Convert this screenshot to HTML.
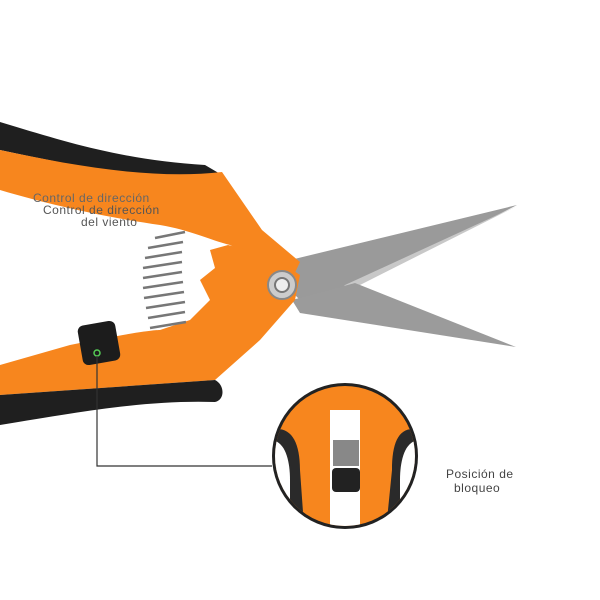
<!DOCTYPE html>
<html><head><meta charset="utf-8"><style>
html,body{margin:0;padding:0;background:#fff;width:600px;height:600px;overflow:hidden}
svg{display:block}
</style></head><body>
<svg width="600" height="600" viewBox="0 0 600 600" xmlns="http://www.w3.org/2000/svg">
<defs>
<linearGradient id="bl" x1="0" y1="0" x2="0" y2="1">
<stop offset="0" stop-color="#b9b9b9"/><stop offset="0.5" stop-color="#8c8c8c"/><stop offset="1" stop-color="#a8a8a8"/>
</linearGradient>
<clipPath id="cc"><circle cx="345" cy="456" r="70"/></clipPath>
</defs>
<!-- blades -->
<polygon points="240,240 282,262 517,205 330,300 300,300" fill="#9a9a9a"/>
<polygon points="330,300 517,206 345,285" fill="#c8c8c8"/>
<polygon points="292,300 355,283 516,347 300,313" fill="#9b9b9b"/>
<!-- top handle black -->
<path d="M0,122 C60,140 120,160 205,165 L222,175 L225,190 C150,180 70,165 0,150 Z" fill="#1f1f1f"/>
<!-- top handle orange -->
<path d="M0,150 C70,165 150,180 222,172 L262,230 L300,262 L282,300 L240,250 L230,245 C210,240 190,230 160,225 C110,218 50,205 0,190 Z" fill="#f7861e"/>
<!-- lower arm orange -->
<path d="M70,345 C120,335 150,330 160,330 L190,320 L210,300 L200,280 L215,268 L210,250 L228,245 L270,255 L300,275 L295,300 L260,340 L215,380 L0,395 L0,365 Z" fill="#f7861e"/>
<path d="M0,395 L215,380 C225,385 225,400 215,402 C150,400 90,410 0,425 Z" fill="#1f1f1f"/>
<!-- spring -->
<g stroke="#777" stroke-width="2.5" fill="none">
<path d="M155,238 L185,232 M148,248 L183,242 M145,258 L182,252 M143,268 L182,262 M143,278 L182,272 M143,288 L183,282 M144,298 L184,292 M146,308 L185,302 M148,318 L185,312 M150,328 L186,322"/>
</g>
<!-- pivot nut -->
<circle cx="282" cy="285" r="14" fill="#ccc" stroke="#888" stroke-width="2"/>
<circle cx="282" cy="285" r="7" fill="#eee" stroke="#777" stroke-width="2"/>
<!-- lock button -->
<rect x="80" y="323" width="38" height="40" rx="6" fill="#1c1c1c" transform="rotate(-10 99 343)"/>
<circle cx="97" cy="353" r="3" fill="none" stroke="#5c5" stroke-width="1.5"/>
<!-- leader -->
<path d="M97,356 V466 H272" stroke="#333" stroke-width="1.2" fill="none"/>
<!-- inset circle -->
<circle cx="345" cy="456" r="73" fill="#222"/>
<g clip-path="url(#cc)">
<rect x="270" y="380" width="150" height="160" fill="#f7861e"/>
<path d="M270,430 C290,425 300,440 300,470 L305,540 L270,540 Z" fill="#2a2a2a"/>
<path d="M420,430 C400,425 392,440 392,470 L385,540 L420,540 Z" fill="#2a2a2a"/>
<path d="M270,440 C285,440 290,460 290,480 L290,540 L270,540 Z" fill="#fff"/>
<path d="M420,440 C405,440 400,460 400,480 L400,540 L420,540 Z" fill="#fff"/>
<rect x="330" y="410" width="30" height="120" fill="#fff"/>
<rect x="333" y="440" width="26" height="26" fill="#888"/>
<rect x="332" y="468" width="28" height="24" rx="4" fill="#222"/>
</g>
<!-- labels -->
<g font-family="'Liberation Sans',sans-serif" font-size="12" fill="#444" letter-spacing="0.5">
<text x="33" y="202" fill="#666">Control de dirección</text>
<text x="43" y="214" fill="#555">Control de dirección</text>
<text x="81" y="226" fill="#555">del viento</text>
<text x="446" y="478">Posición de</text>
<text x="454" y="492">bloqueo</text>
</g>
</svg>
</body></html>
